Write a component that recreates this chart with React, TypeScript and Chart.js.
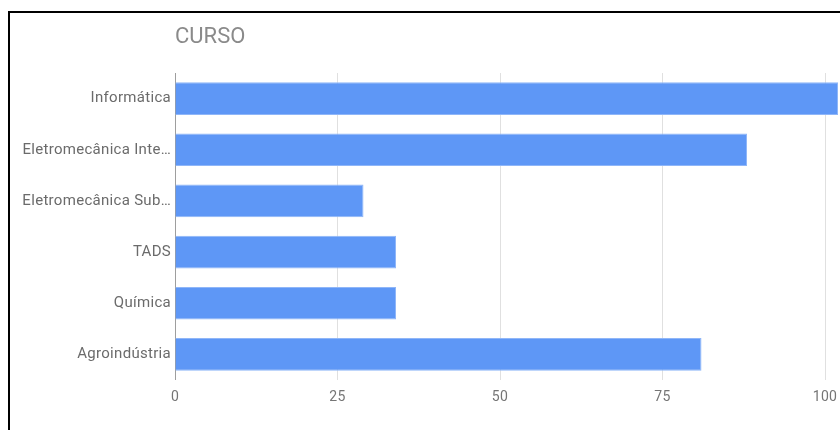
import React, { useEffect, useRef } from "react";
import { Chart, registerables } from "chart.js";

Chart.register(...registerables);

const categories = [
  "Informática",
  "Eletromecânica Inte…",
  "Eletromecânica Sub…",
  "TADS",
  "Química",
  "Agroindústria",
];
const values = [102, 88, 29, 34, 34, 81];
const tickValues = [0, 25, 50, 75, 100];
const chartTitle = "CURSO";

const titlePlugin = {
  id: "leftTitle",
  beforeDraw(chart: any) {
    chart.ctx.letterSpacing = "0.3px";
  },
  afterDraw(chart: any) {
    const ctx = chart.ctx;
    ctx.save();
    ctx.font = "22px Roboto";
    ctx.letterSpacing = "0px";
    ctx.fillStyle = "#8a8a8a";
    ctx.textAlign = "left";
    ctx.textBaseline = "middle";
    ctx.fillText(chartTitle, chart.chartArea.left, 37);
    ctx.restore();
  },
};

export default function App() {
  const ref = useRef<HTMLCanvasElement | null>(null);
  useEffect(() => {
    if (!ref.current) return;
    const chart = new Chart(ref.current, {
      type: "bar",
      data: {
        labels: categories,
        datasets: [
          {
            data: values,
            backgroundColor: "#5e97f6",
            borderColor: "#8fb6f8",
            borderWidth: 1,
            barPercentage: 0.64,
            categoryPercentage: 1,
          },
        ],
      },
      plugins: [titlePlugin],
      options: {
        indexAxis: "y",
        animation: false,
        responsive: false,
        maintainAspectRatio: false,
        layout: { padding: { left: 0, right: 10, top: 73, bottom: 20 } },
        plugins: { legend: { display: false }, tooltip: { enabled: false } },
        scales: {
          x: {
            min: 0,
            max: 110,
            afterBuildTicks: (axis: any) => {
              axis.ticks = tickValues.map((v) => ({ value: v }));
            },
            afterFit: (scale: any) => {
              scale.height = 30;
            },
            border: { display: false },
            grid: {
              drawTicks: false,
              color: (c: any) => (c.tick && c.tick.value === 0 ? "#9e9e9e" : "#e0e0e0"),
            },
            ticks: {
              padding: 9,
              color: "#757575",
              font: { family: "Roboto", size: 14 },
            },
          },
          y: {
            afterFit: (scale: any) => {
              scale.width = 175;
            },
            border: { display: false },
            grid: { display: false, drawTicks: false },
            ticks: {
              padding: 4,
              color: "#6b6b6b",
              font: { family: "Roboto", size: 15 },
              autoSkip: false,
            },
          },
        },
      },
    });
    return () => chart.destroy();
  }, []);
  return (
    <div style={{ position: "fixed", left: 0, top: 0, width: 840, height: 430, overflow: "hidden", background: "#fff" }}>
      <div
        style={{
          position: "absolute",
          left: 8,
          top: 11,
          width: 900,
          height: 500,
          border: "2px solid #000",
          boxSizing: "border-box",
        }}
      />
      <canvas
        ref={ref}
        width={900}
        height={430}
        style={{ position: "absolute", left: 0, top: 0, width: 900, height: 430 }}
      />
    </div>
  );
}
